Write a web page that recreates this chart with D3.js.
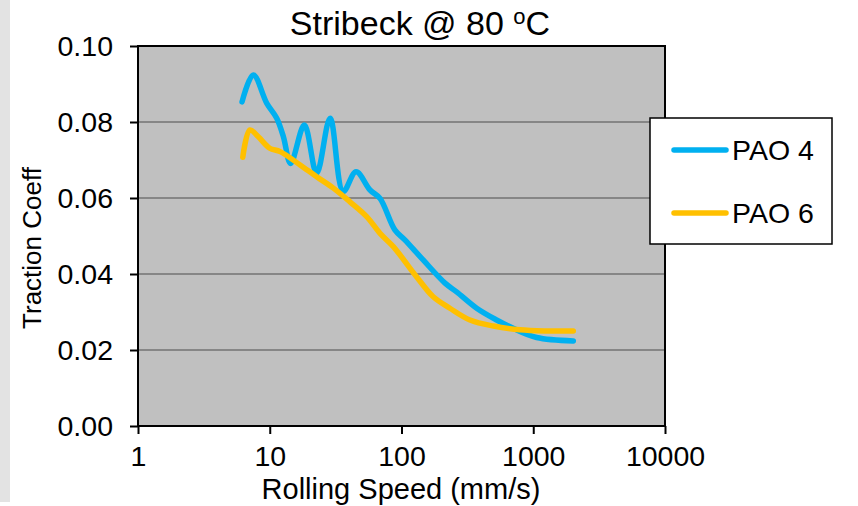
<!DOCTYPE html>
<html>
<head>
<meta charset="utf-8">
<script src="https://cdn.jsdelivr.net/npm/d3@7"></script>
<style>
  body { margin: 0; background: #fff; }
  svg { display: block; font-family: "Liberation Sans", Arial, sans-serif; }
</style>
</head>
<body>
<svg id="chart" width="858" height="506"></svg>
<script>
// rolling speed (mm/s) and traction coefficient
const pao4Speed = [6.16, 7.5, 9.5, 11.3, 12.7, 14.4, 18.3, 22.7, 28.7, 36.1, 45.2, 57.7, 68.7, 89, 106, 146, 214, 262, 372, 527, 705, 1060, 2013];
const pao4Coeff = [0.0853, 0.0924, 0.0849, 0.081, 0.0761, 0.0691, 0.0792, 0.0665, 0.081, 0.0617, 0.0669, 0.0621, 0.0599, 0.0516, 0.049, 0.0437, 0.0376, 0.0353, 0.031, 0.0279, 0.0257, 0.0233, 0.0224];

const pao6Speed = [6.24, 7.08, 8.19, 10.0, 12.0, 17.0, 22.7, 30.4, 40.6, 54.4, 68.7, 86.7, 130, 174, 233, 331, 498, 793, 1263, 2013];
const pao6Coeff = [0.0707, 0.0779, 0.0761, 0.0731, 0.0722, 0.0687, 0.0656, 0.0626, 0.059, 0.0551, 0.0507, 0.0472, 0.0393, 0.034, 0.031, 0.0279, 0.0263, 0.0253, 0.025, 0.025];

const seriesNames = ["PAO 4", "PAO 6"];
const seriesColors = ["#00B0F0", "#FFC000"];
const xTicks = [1, 10, 100, 1000, 10000];
const yTicks = [0, 0.02, 0.04, 0.06, 0.08, 0.10];

const svg = d3.select("#chart");

const plotLeft = 138, plotRight = 665, plotTop = 46, plotBottom = 426;

const x = d3.scaleLog().domain([1, 10000]).range([plotLeft, plotRight]);
const y = d3.scaleLinear().domain([0, 0.10]).range([plotBottom, plotTop]);

// grey strip at the left edge of the picture
svg.append("rect")
  .attr("x", 0).attr("y", 0)
  .attr("width", 10).attr("height", 502)
  .attr("fill", "#E3E3E3");

// plot background
svg.append("rect")
  .attr("x", plotLeft).attr("y", plotTop)
  .attr("width", plotRight - plotLeft).attr("height", plotBottom - plotTop)
  .attr("fill", "#C0C0C0");

// gridlines
svg.append("g")
  .selectAll("line")
  .data(yTicks.slice(1, -1))
  .join("line")
  .attr("x1", plotLeft).attr("x2", plotRight)
  .attr("y1", d => y(d)).attr("y2", d => y(d))
  .attr("stroke", "#868686")
  .attr("stroke-width", 2);

// axes
const yAxis = svg.append("g")
  .attr("transform", `translate(${plotLeft},0)`)
  .call(d3.axisLeft(y).tickValues(yTicks).tickFormat(d3.format(".2f")).tickSize(8).tickPadding(17));

const xAxis = svg.append("g")
  .attr("transform", `translate(0,${plotBottom})`)
  .call(d3.axisBottom(x).tickValues(xTicks).tickFormat(d3.format("d")).tickSize(8).tickPadding(8));

[yAxis, xAxis].forEach(a => {
  a.select(".domain").remove();
  a.selectAll(".tick line").attr("stroke", "#000").attr("stroke-width", 2);
  a.selectAll(".tick text")
    .attr("fill", "#000")
    .style("font-family", "'Liberation Sans', Arial, sans-serif")
    .style("font-size", "28.5px");
});
xAxis.selectAll(".tick text").attr("dy", "0.85em");

// plot border
svg.append("rect")
  .attr("x", plotLeft).attr("y", plotTop)
  .attr("width", plotRight - plotLeft).attr("height", plotBottom - plotTop)
  .attr("fill", "none")
  .attr("stroke", "#000")
  .attr("stroke-width", 2);

// lines
const line = d3.line()
  .x(d => x(d[0]))
  .y(d => y(d[1]))
  .curve(d3.curveCatmullRom.alpha(0.5));

const series = [
  d3.zip(pao4Speed, pao4Coeff),
  d3.zip(pao6Speed, pao6Coeff)
];

svg.append("g")
  .selectAll("path")
  .data(series)
  .join("path")
  .attr("d", line)
  .attr("fill", "none")
  .attr("stroke", (d, i) => seriesColors[i])
  .attr("stroke-width", 5.5)
  .attr("stroke-linecap", "round")
  .attr("stroke-linejoin", "round");

// title
const title = svg.append("text")
  .attr("x", 420).attr("y", 35)
  .attr("text-anchor", "middle")
  .style("font-size", "34px")
  .attr("fill", "#000");
title.append("tspan").text("Stribeck  @  80 ");
title.append("tspan").text("o").attr("dy", -11).style("font-size", "22px");
title.append("tspan").text("C").attr("dy", 11);

// axis titles
svg.append("text")
  .attr("x", 401).attr("y", 499)
  .attr("text-anchor", "middle")
  .style("font-size", "29px")
  .text("Rolling Speed (mm/s)");

svg.append("text")
  .attr("transform", "translate(41,248) rotate(-90)")
  .attr("text-anchor", "middle")
  .style("font-size", "26px")
  .text("Traction Coeff");

// legend
const legend = svg.append("g");
legend.append("rect")
  .attr("x", 650).attr("y", 118)
  .attr("width", 182).attr("height", 126)
  .attr("fill", "#fff")
  .attr("stroke", "#000")
  .attr("stroke-width", 1.5);

const items = legend.selectAll("g.item")
  .data(seriesNames)
  .join("g")
  .attr("class", "item")
  .attr("transform", (d, i) => `translate(0,${150 + i * 63})`);

items.append("line")
  .attr("x1", 674).attr("x2", 726)
  .attr("stroke", (d, i) => seriesColors[i])
  .attr("stroke-width", 5.5)
  .attr("stroke-linecap", "round");

items.append("text")
  .attr("x", 732).attr("y", 10)
  .style("font-size", "28.5px")
  .text(d => d);
</script>
</body>
</html>
